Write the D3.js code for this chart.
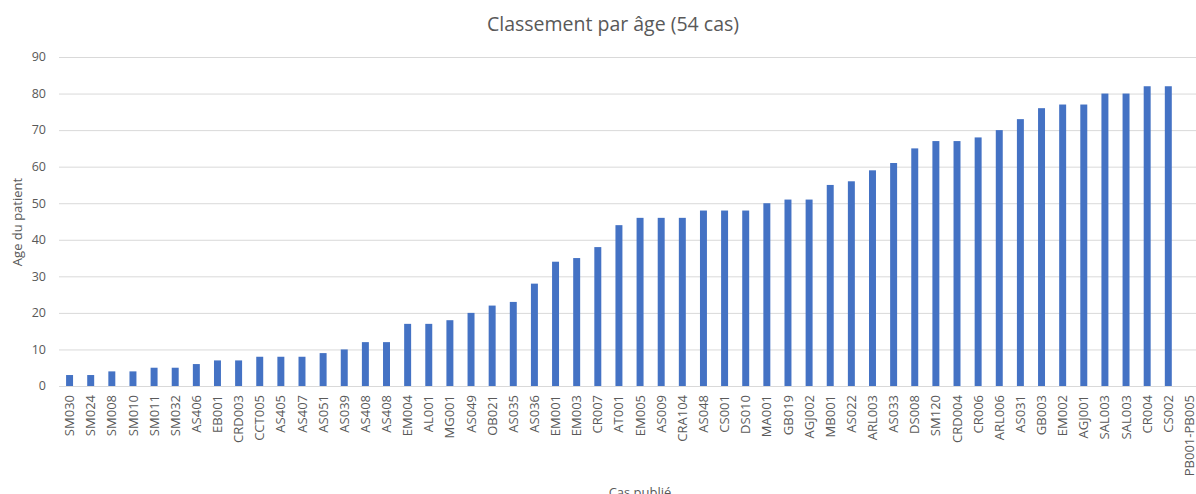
<!DOCTYPE html>
<html>
<head>
<meta charset="utf-8">
<script src="https://cdn.jsdelivr.net/npm/d3@7"></script>
<style>
  body { margin: 0; background: #fff; }
  text { font-family: "Open Sans", "Noto Sans", sans-serif; fill: #595959; }
  .grid line { stroke: #d9d9d9; }
  .grid path { display: none; }
</style>
</head>
<body>
<div id="chart"></div>
<script>
// Cases, ordered by age
var cases = ["SM030", "SM024", "SM008", "SM010", "SM011", "SM032", "AS406", "EB001", "CRD003", "CCT005",
  "AS405", "AS407", "AS051", "AS039", "AS408", "AS408", "EM004", "AL001", "MG001", "AS049",
  "OB021", "AS035", "AS036", "EM001", "EM003", "CR007", "AT001", "EM005", "AS009", "CRA104",
  "AS048", "CS001", "DS010", "MA001", "GB019", "AGJ002", "MB001", "AS022", "ARL003", "AS033",
  "DS008", "SM120", "CRD004", "CR006", "ARL006", "AS031", "GB003", "EM002", "AGJ001", "SAL003",
  "SAL003", "CR004", "CS002", "PB001-PB005"];
var ages = [3, 3, 4, 4, 5, 5, 6, 7, 7, 8,
  8, 8, 9, 10, 12, 12, 17, 17, 18, 20,
  22, 23, 28, 34, 35, 38, 44, 46, 46, 46,
  48, 48, 48, 50, 51, 51, 55, 56, 59, 61,
  65, 67, 67, 68, 70, 73, 76, 77, 77, 80,
  80, 82, 82, null];
var yTicks = [0, 10, 20, 30, 40, 50, 60, 70, 80, 90];

var width = 1196, height = 494;
var plotLeft = 59, plotRight = 1200, plotTop = 57, plotBottom = 386;

var svg = d3.select("#chart").append("svg")
  .attr("width", width)
  .attr("height", height);

// index-based band so duplicate names stay separate
var xScale = d3.scaleBand().domain(d3.range(cases.length)).range([plotLeft, plotRight]).paddingInner(0.67).paddingOuter(0.335);
var yScale = d3.scaleLinear().domain([0, 90]).range([plotBottom, plotTop]);

// gridlines
svg.append("g")
  .attr("class", "grid")
  .attr("transform", "translate(" + plotLeft + ",0)")
  .call(d3.axisLeft(yScale).tickValues(yTicks).tickSize(-(width - plotLeft)).tickFormat(""));

// y tick labels
svg.append("g")
  .selectAll("text")
  .data(yTicks)
  .enter().append("text")
  .attr("x", 46)
  .attr("y", function(d) { return yScale(d); })
  .attr("dy", "0.35em")
  .attr("text-anchor", "end")
  .style("font-size", "12.5px")
  .text(function(d) { return d; });

// bars
svg.append("g")
  .selectAll("rect")
  .data(ages.map(function(v, i) { return {i: i, v: v}; }).filter(function(d) { return d.v != null; }))
  .enter().append("rect")
  .attr("x", function(d) { return xScale(d.i); })
  .attr("width", xScale.bandwidth())
  .attr("y", function(d) { return yScale(d.v); })
  .attr("height", function(d) { return yScale(0) - yScale(d.v); })
  .style("fill", "#4472c4");

// x category labels
svg.append("g")
  .selectAll("text")
  .data(cases)
  .enter().append("text")
  .attr("transform", function(d, i) {
    return "translate(" + (xScale(i) + xScale.bandwidth() / 2) + ",395) rotate(-90)";
  })
  .attr("dy", "0.35em")
  .attr("text-anchor", "end")
  .style("font-size", "13px")
  .text(function(d) { return d; });

// title
svg.append("text")
  .attr("x", 613)
  .attr("y", 31)
  .attr("text-anchor", "middle")
  .style("font-size", "19.5px")
  .text("Classement par âge (54 cas)");

// y label
svg.append("text")
  .attr("transform", "translate(22,222) rotate(-90)")
  .attr("text-anchor", "middle")
  .style("font-size", "13px")
  .text("Age du patient");

// x label
svg.append("text")
  .attr("x", 640)
  .attr("y", 497)
  .attr("text-anchor", "middle")
  .style("font-size", "13px")
  .text("Cas publié");
</script>
</body>
</html>
